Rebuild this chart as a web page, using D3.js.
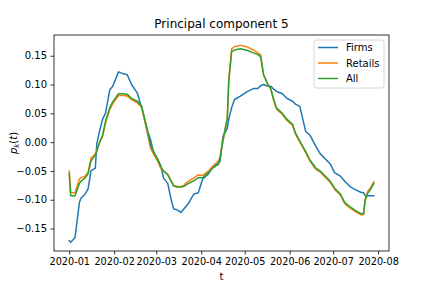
<!DOCTYPE html>
<html>
<head>
<meta charset="utf-8">
<script src="https://cdn.jsdelivr.net/npm/d3@7"></script>
<style>
  html, body { margin: 0; padding: 0; background: #fff; }
  svg { display: block; font-family: "DejaVu Sans", sans-serif; }
</style>
</head>
<body>
<svg id="chart" width="432" height="288"></svg>
<script>
// ---- data (days since 2020-01-01) ----
const days = [0,1,4,7,8,11,13,15,18,19,21,23,25,28,30,34,37,40,43,47,50,54,56,58,61,63,65,68,70,72,74,77,79,82,86,89,92,96,99,103,104,106,109,110,112,114,118,123,127,130,132,134,137,139,141,143,147,150,154,156,159,163,166,170,173,177,180,183,187,190,194,197,201,203,204,206,208,210];

const firms = [-0.171,-0.174,-0.166,-0.105,-0.098,-0.090,-0.081,-0.050,-0.045,-0.003,0.020,0.040,0.050,0.091,0.097,0.122,0.119,0.117,0.100,0.085,0.059,0.019,0.005,-0.016,-0.030,-0.040,-0.062,-0.072,-0.097,-0.116,-0.117,-0.122,-0.116,-0.107,-0.090,-0.088,-0.064,-0.055,-0.043,-0.036,-0.033,0.010,0.024,0.040,0.060,0.074,0.080,0.088,0.093,0.093,0.098,0.100,0.097,0.097,0.092,0.088,0.084,0.076,0.071,0.066,0.062,0.019,0.012,-0.007,-0.020,-0.030,-0.038,-0.053,-0.059,-0.068,-0.078,-0.082,-0.087,-0.088,-0.093,-0.093,-0.093,-0.093];

const retails = [-0.050,-0.088,-0.088,-0.064,-0.062,-0.059,-0.052,-0.028,-0.020,-0.014,0.000,0.010,0.033,0.057,0.067,0.081,0.081,0.080,0.074,0.068,0.060,0.015,-0.010,-0.020,-0.033,-0.045,-0.050,-0.056,-0.066,-0.075,-0.077,-0.077,-0.075,-0.068,-0.062,-0.057,-0.058,-0.050,-0.042,-0.032,-0.026,0.004,0.043,0.108,0.162,0.166,0.168,0.165,0.160,0.155,0.152,0.117,0.100,0.092,0.072,0.057,0.048,0.038,0.029,0.014,0.000,-0.018,-0.033,-0.047,-0.052,-0.062,-0.070,-0.082,-0.092,-0.107,-0.115,-0.120,-0.126,-0.126,-0.100,-0.085,-0.078,-0.069];

const all = [-0.055,-0.093,-0.093,-0.072,-0.068,-0.062,-0.055,-0.033,-0.022,-0.016,0.000,0.012,0.036,0.060,0.070,0.084,0.084,0.083,0.076,0.071,0.062,0.019,-0.005,-0.016,-0.030,-0.042,-0.050,-0.057,-0.067,-0.076,-0.078,-0.078,-0.077,-0.072,-0.067,-0.062,-0.062,-0.053,-0.045,-0.038,-0.028,0.002,0.041,0.105,0.157,0.160,0.162,0.159,0.155,0.152,0.148,0.117,0.100,0.093,0.074,0.059,0.050,0.040,0.031,0.016,0.002,-0.016,-0.031,-0.045,-0.050,-0.060,-0.068,-0.080,-0.090,-0.105,-0.113,-0.118,-0.124,-0.124,-0.102,-0.088,-0.081,-0.072];

const seriesNames = ["Firms", "Retails", "All"];
const seriesColors = ["#1f77b4", "#ff7f0e", "#2ca02c"];
const yTicks = [-0.15, -0.10, -0.05, 0.00, 0.05, 0.10, 0.15];
const titleText = "Principal component 5";

// ---- layout ----
const L = 54, R = 389, T = 35, B = 251;
const svg = d3.select("#chart");
const toDate = d => new Date(Date.UTC(2020, 0, 1 + d));

const x = d3.scaleUtc()
  .domain([new Date(Date.UTC(2020, 0, 1) - 10.5 * 864e5), new Date(Date.UTC(2020, 0, 1) + 220.5 * 864e5)])
  .range([L, R]);
const y = d3.scaleLinear().domain([-0.189, 0.186]).range([B, T]);

// lines
const seriesData = [firms, retails, all];
const line = d3.line().x((d, i) => x(toDate(days[i]))).y(d => y(d));
const gLines = svg.append("g");
seriesData.forEach((vals, k) => {
  gLines.append("path")
    .attr("d", line(vals))
    .attr("fill", "none")
    .attr("stroke", seriesColors[k])
    .attr("stroke-width", 1.5)
    .attr("stroke-linejoin", "round")
    .attr("stroke-linecap", "square");
});

// axes
const fmtMinus = v => d3.format(".2f")(v).replace("-", "\u2212");
const xAxis = d3.axisBottom(x)
  .tickValues(d3.utcMonth.range(new Date(Date.UTC(2020,0,1)), new Date(Date.UTC(2020,7,2))))
  .tickFormat(d3.utcFormat("%Y-%m"))
  .tickSize(3.5).tickPadding(3.5);
const yAxis = d3.axisLeft(y).tickValues(yTicks).tickFormat(fmtMinus).tickSize(3.5).tickPadding(3.5);

const gx = svg.append("g").attr("transform", `translate(0,${B})`).call(xAxis);
const gy = svg.append("g").attr("transform", `translate(${L},0)`).call(yAxis);
[gx, gy].forEach(g => {
  g.select(".domain").remove();
  g.selectAll(".tick line").attr("stroke", "#000").attr("stroke-width", 0.8);
  g.selectAll(".tick text").attr("font-size", 10).attr("fill", "#000")
    .attr("font-family", "DejaVu Sans, sans-serif");
});
gx.selectAll(".tick text").attr("font-size", 9.7);

// frame
svg.append("rect").attr("x", L).attr("y", T).attr("width", R - L).attr("height", B - T)
  .attr("fill", "none").attr("stroke", "#000").attr("stroke-width", 0.8);

// title and labels
svg.append("text").attr("x", (L + R) / 2).attr("y", T - 7).attr("text-anchor", "middle")
  .attr("font-size", 12).text(titleText);
svg.append("text").attr("x", (L + R) / 2).attr("y", 280).attr("text-anchor", "middle")
  .attr("font-size", 10).text("t");
const yl = svg.append("text")
  .attr("transform", `translate(17,${(T + B) / 2}) rotate(-90)`)
  .attr("text-anchor", "middle").attr("font-size", 10);
yl.append("tspan").attr("font-style", "italic").text("p");
yl.append("tspan").attr("font-style", "italic").attr("font-size", 7).attr("dy", 2).text("k");
yl.append("tspan").attr("dy", -2).text("(");
yl.append("tspan").attr("font-style", "italic").text("t");
yl.append("tspan").text(")");

// legend
const lg = svg.append("g");
lg.append("rect").attr("x", 314).attr("y", 40).attr("width", 70).attr("height", 48)
  .attr("rx", 2.5).attr("fill", "#fff").attr("fill-opacity", 0.8)
  .attr("stroke", "#cccccc").attr("stroke-width", 0.8);
seriesNames.forEach((name, k) => {
  const yy = 47.5 + k * 15.5;
  lg.append("line").attr("x1", 318).attr("x2", 338).attr("y1", yy).attr("y2", yy)
    .attr("stroke", seriesColors[k]).attr("stroke-width", 1.5);
  lg.append("text").attr("x", 346).attr("y", yy + 3.6).attr("font-size", 10).text(name);
});
</script>
</body>
</html>
